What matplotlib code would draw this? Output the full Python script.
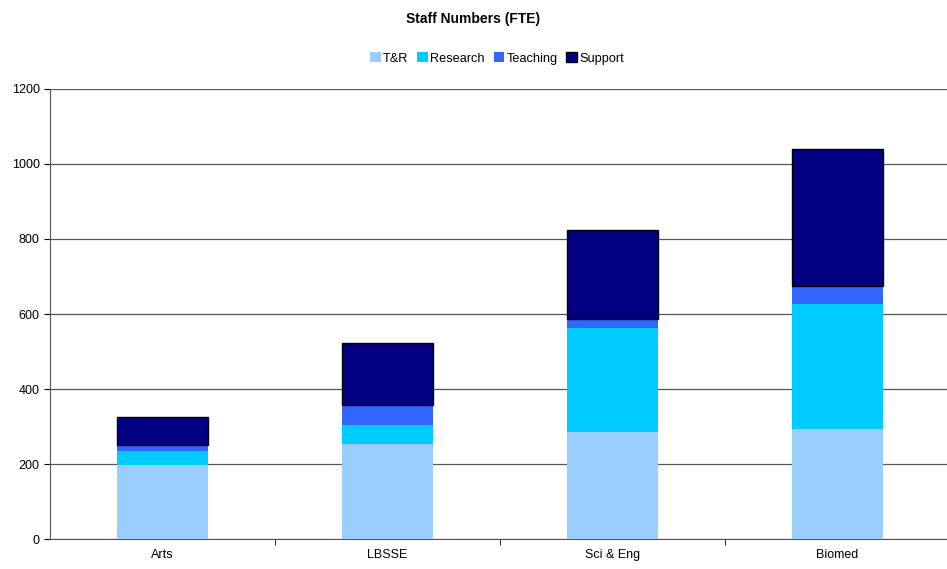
import matplotlib.pyplot as plt
import numpy as np

plt.rcParams['font.family'] = ['Liberation Sans', 'DejaVu Sans']

# values (FTE)
faculties = ['Arts', 'LBSSE', 'Sci & Eng', 'Biomed']
t_and_r = [197, 253, 285, 293]
research = [38, 51, 278, 334]
teaching = [17, 54, 23, 49]
support = [74, 165, 237, 364]

series = [
    ('T&R', t_and_r, '#99ccff'),
    ('Research', research, '#00ccff'),
    ('Teaching', teaching, '#3366ff'),
    ('Support', support, '#000080'),
]

fig = plt.figure(figsize=(9.47, 5.69), dpi=100)
ax = fig.add_axes([0.0528, 0.0527, 0.9504, 0.7909])

x = np.arange(len(faculties))
bottom = np.zeros(len(faculties))
for name, vals, col in series:
    if name == 'Support':
        ax.bar(x, vals, 0.405, bottom=bottom, color=col, edgecolor='black',
               linewidth=1.0, label=name, zorder=3)
    else:
        ax.bar(x, vals, 0.405, bottom=bottom, color=col, linewidth=0,
               label=name, zorder=3)
    bottom += np.array(vals)

ax.set_xlim(-0.5, len(faculties) - 0.5)
ax.set_ylim(0, 1200)
ax.set_yticks(range(0, 1201, 200))
ax.yaxis.grid(True, color='#555555', linewidth=0.9, zorder=0)

ax.set_xticks(x)
ax.set_xticklabels(faculties)
ax.set_xticks(np.arange(0.5, len(faculties) - 0.5, 1), minor=True)
ax.tick_params(axis='x', which='major', length=0, labelsize=9, pad=7)
ax.tick_params(axis='x', which='minor', length=4, direction='out', color='black')
ax.tick_params(axis='y', labelsize=9, length=4, direction='out')

for s in ['top', 'right']:
    ax.spines[s].set_visible(False)
ax.spines['left'].set_color('#555555')
ax.spines['bottom'].set_color('#555555')

fig.text(0.5, 0.966, 'Staff Numbers (FTE)', ha='center', va='center',
         fontsize=10, fontweight='bold')
fig.legend(loc='center', bbox_to_anchor=(0.525, 0.897), ncol=4, frameon=False,
           fontsize=9.2, handlelength=0.8, handleheight=0.8, handletextpad=0.2,
           columnspacing=0.7)

fig.savefig('out.png', dpi=100)
